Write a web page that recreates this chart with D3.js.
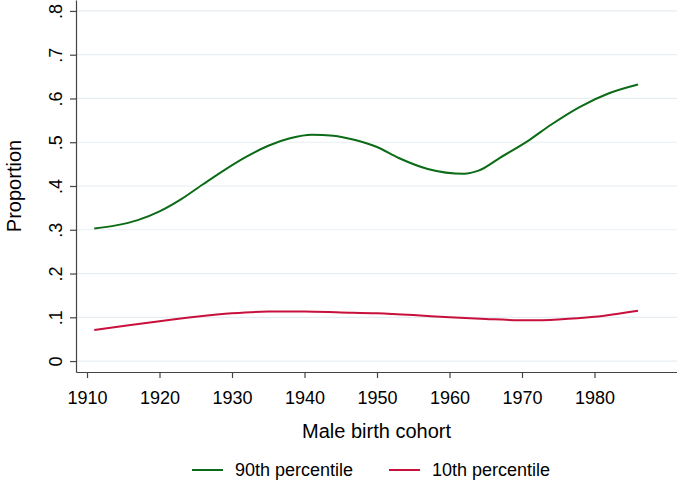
<!DOCTYPE html>
<html>
<head>
<meta charset="utf-8">
<script src="https://cdn.jsdelivr.net/npm/d3@7"></script>
<style>
	body { margin: 0; background: #fff; }
	text { font-family: "Liberation Sans", Arial, sans-serif; fill: #000; }
</style>
</head>
<body>
<script>
// data
var years_p90 = [1911, 1914, 1917, 1920, 1923, 1926, 1929, 1932, 1935, 1938, 1941, 1944, 1947, 1950, 1953, 1957, 1962, 1964, 1967, 1971, 1974, 1978, 1982, 1986];
var values_p90 = [0.303, 0.310, 0.322, 0.342, 0.370, 0.404, 0.437, 0.467, 0.492, 0.509, 0.517, 0.515, 0.505, 0.489, 0.464, 0.439, 0.428, 0.435, 0.465, 0.505, 0.540, 0.581, 0.612, 0.632];
var years_p10 = [1911, 1915, 1920, 1925, 1930, 1935, 1940, 1945, 1950, 1955, 1960, 1965, 1971, 1975, 1980, 1986];
var values_p10 = [0.071, 0.080, 0.091, 0.101, 0.109, 0.113, 0.113, 0.111, 0.109, 0.105, 0.100, 0.096, 0.093, 0.095, 0.101, 0.115];
var x_ticks = [1910, 1920, 1930, 1940, 1950, 1960, 1970, 1980];
var y_ticks = [0, 0.1, 0.2, 0.3, 0.4, 0.5, 0.6, 0.7, 0.8];
var y_tick_labels = ["0", ".1", ".2", ".3", ".4", ".5", ".6", ".7", ".8"];
var series_labels = ["90th percentile", "10th percentile"];
var series_colors = ["#0b6b16", "#c8103c"];

var width = 677, height = 487;
var svg = d3.select("body")
	.append("svg")
	.attr("width", width)
	.attr("height", height);

var xScale = d3.scaleLinear()
	.domain([1908.48, 1991.38])
	.range([76, 677]);
var yScale = d3.scaleLinear()
	.domain([-0.025, 0.825])
	.range([372, 0]);

// grid lines
svg.append("g")
	.selectAll("line")
	.data(y_ticks)
	.enter().append("line")
	.attr("x1", 76)
	.attr("x2", 677)
	.attr("y1", function(d){ return yScale(d); })
	.attr("y2", function(d){ return yScale(d); })
	.attr("stroke", "#e6eef2")
	.attr("stroke-width", 1.2);

// series
var series = [
	{label: series_labels[0], color: series_colors[0], pts: years_p90.map(function(y, i){ return [y, values_p90[i]]; })},
	{label: series_labels[1], color: series_colors[1], pts: years_p10.map(function(y, i){ return [y, values_p10[i]]; })}
];
var line = d3.line()
	.x(function(d){ return xScale(d[0]); })
	.y(function(d){ return yScale(d[1]); })
	.curve(d3.curveMonotoneX);
svg.append("g")
	.selectAll("path")
	.data(series)
	.enter().append("path")
	.attr("d", function(d){ return line(d.pts); })
	.attr("fill", "none")
	.attr("stroke", function(d){ return d.color; })
	.attr("stroke-width", 2);

// x-axis
var xAxis = svg.append("g")
	.attr("transform", "translate(0,372)")
	.call(d3.axisBottom(xScale).tickValues(x_ticks).tickFormat(d3.format("d")).tickSize(6).tickSizeOuter(0).tickPadding(13));
xAxis.selectAll("text").attr("font-size", 18).attr("font-family", null);
xAxis.selectAll("line, path").attr("stroke", "#444").attr("stroke-width", 1.2);

// y-axis, labels turned like Stata does
var yAxis = svg.append("g")
	.attr("transform", "translate(76,0)")
	.call(d3.axisLeft(yScale).tickValues(y_ticks).tickFormat(function(d, i){ return y_tick_labels[i]; }).tickSize(6).tickSizeOuter(0));
yAxis.selectAll("text")
	.attr("x", null)
	.attr("dy", null)
	.attr("transform", "translate(-14,0) rotate(-90)")
	.attr("text-anchor", "middle")
	.attr("font-size", 18)
	.attr("font-family", null);
yAxis.selectAll("line, path").attr("stroke", "#444").attr("stroke-width", 1.2);

// axis titles
svg.append("text")
	.attr("transform", "translate(21,186) rotate(-90)")
	.attr("text-anchor", "middle")
	.attr("font-size", 20)
	.text("Proportion");
svg.append("text")
	.attr("x", 376.5)
	.attr("y", 438)
	.attr("text-anchor", "middle")
	.attr("font-size", 20)
	.text("Male birth cohort");

// legend
var legend_x = [192, 389];
var legend = svg.append("g")
	.selectAll("g")
	.data(series)
	.enter().append("g")
	.attr("transform", function(d, i){ return "translate(" + legend_x[i] + ",470)"; });
legend.append("line")
	.attr("x1", 0)
	.attr("x2", 31)
	.attr("stroke", function(d){ return d.color; })
	.attr("stroke-width", 2);
legend.append("text")
	.attr("x", 43)
	.attr("dy", "0.35em")
	.attr("font-size", 18)
	.text(function(d){ return d.label; });
</script>
</body>
</html>
